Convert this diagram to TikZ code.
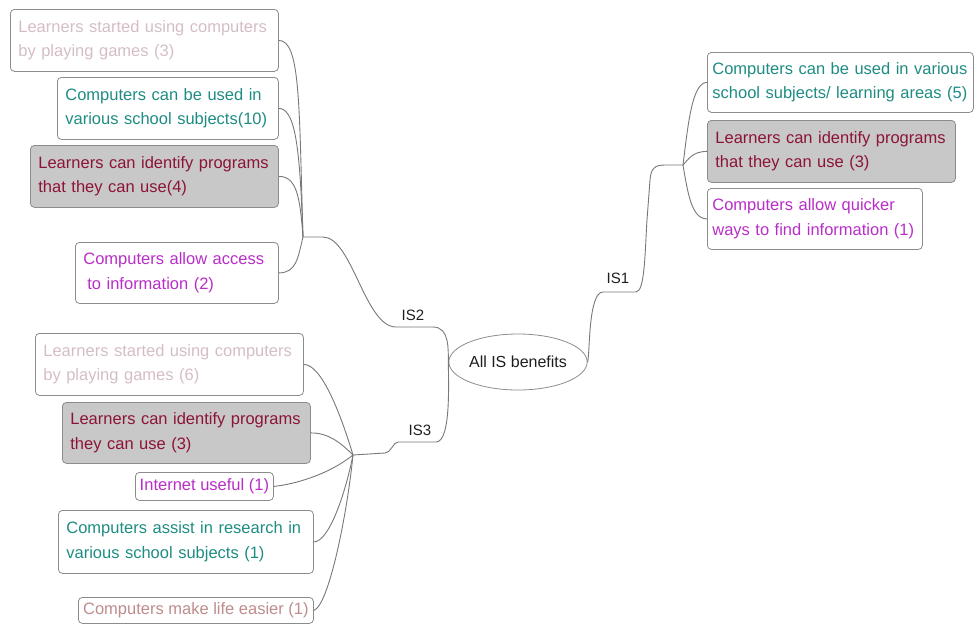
\documentclass[tikz,border=0pt]{standalone}
\usepackage{fontspec}
\setmainfont{Liberation Sans}
\usetikzlibrary{shapes.geometric}
\definecolor{fadedpink}{RGB}{212,190,196}
\definecolor{tealtext}{RGB}{30,140,130}
\definecolor{darkredtext}{RGB}{140,20,55}
\definecolor{boxgray}{RGB}{200,200,200}
\definecolor{magentatext}{RGB}{185,45,200}
\definecolor{rosetext}{RGB}{190,140,140}
\definecolor{bordergray}{RGB}{140,140,140}
\definecolor{linegray}{RGB}{120,120,120}
\definecolor{labelblack}{RGB}{30,30,30}
\newcommand\bxfont{\fontsize{16.5}{24.5}\selectfont}
\newcommand\rootfont{\fontsize{16}{19}\selectfont}
\newcommand\lblfont{\fontsize{15}{18}\selectfont}
\begin{document}
\begin{tikzpicture}[x=1pt,y=-1pt,
  box/.style={draw=bordergray, rounded corners=4pt, line width=0.8pt, anchor=north west,
    inner xsep=8pt, inner ysep=0pt, align=left, font=\bxfont},
  grayfill/.style={fill=boxgray},
  conn/.style={draw=linegray, line width=0.9pt},
  lbl/.style={font=\lblfont, text=labelblack, inner sep=1pt}]
\useasboundingbox (0,0) rectangle (975,625);

% IS2 boxes
\node[box, text=fadedpink, text width=252pt, minimum height=62pt] (a) at (10,9)
  {Learners started using computers\\by playing games (3)};
\node[box, text=tealtext, text width=205pt, minimum height=62pt] (b) at (57,77)
  {Computers can be used in\\various school subjects(10)};
\node[box, grayfill, text=darkredtext, text width=232pt, minimum height=62pt] (c) at (30,145)
  {Learners can identify programs\\that they can use(4)};
\node[box, text=magentatext, text width=187pt, minimum height=61pt] (d) at (75,242)
  {Computers allow access\\\hspace*{4pt}to information (2)};

% IS1 boxes
\node[box, text=tealtext, inner xsep=5pt, text width=256pt, minimum height=60pt] (e) at (707,52)
  {Computers can be used in various\\school subjects/ learning areas (5)};
\node[box, grayfill, text=darkredtext, text width=232pt, minimum height=62pt] (f) at (707,120)
  {Learners can identify programs\\that they can use (3)};
\node[box, text=magentatext, inner xsep=5pt, text width=205pt, minimum height=61pt] (g) at (707,188)
  {Computers allow quicker\\ways to find information (1)};

% IS3 boxes
\node[box, text=fadedpink, text width=252pt, minimum height=62pt] (h) at (35,333)
  {Learners started using computers\\by playing games (6)};
\node[box, grayfill, text=darkredtext, text width=232pt, minimum height=61pt] (i) at (62,402)
  {Learners can identify programs\\they can use (3)};
\node[box, text=magentatext, inner xsep=4pt, minimum width=138pt, minimum height=28pt] (j) at (135,472)
  {Internet useful (1)};
\node[box, text=tealtext, text width=239pt, minimum height=63pt] (k) at (58,510)
  {Computers assist in research in\\various school subjects (1)};
\node[box, text=rosetext, inner xsep=4pt, minimum width=235pt, minimum height=26pt] (l) at (78,597)
  {Computers make life easier (1)};

% root
\node[ellipse, draw=bordergray, line width=0.8pt, minimum width=117pt, minimum height=56pt,
  inner sep=0pt, font=\rootfont, text=labelblack] (root) at (518,362) {All IS benefits};

\coordinate (j2) at (303,237);
\coordinate (j3) at (353,455);
\coordinate (j1) at (683,165);

% trunks
\draw[conn] (root.west) .. controls (448,350) and (450,327) .. (433,327) -- (396,327)
  .. controls (365,327) and (352,237) .. (323,237) -- (j2);
\node[lbl] (l2) at (413,315) {IS2};
\draw[conn] (root.west) .. controls (448,375) and (452,442) .. (436,442) -- (398,442)
  .. controls (393,442) and (391,453) .. (385,453) -- (j3);
\node[lbl] (l3) at (420,430) {IS3};
\draw[conn] (root.east) .. controls (590,355) and (588,292) .. (603,292) -- (636,292)
  .. controls (645,292) and (645,250) .. (647,220) -- (650,180)
  .. controls (651,168) and (655,165) .. (665,165) -- (j1);
\node[lbl] (l1) at (618,278) {IS1};

% IS2 branches
\draw[conn] (a.east) .. controls +(22,0) and +(-4,-130) .. (j2);
\draw[conn] (b.east) .. controls +(18,0) and +(-3,-80) .. (j2);
\draw[conn] (c.east) .. controls +(18,0) and +(-3,-40) .. (j2);
\draw[conn] (d.east) .. controls +(18,0) and +(-5,20) .. (j2);

% IS3 branches
\draw[conn] (h.east) .. controls +(18,0) and +(-12,-40) .. (j3);
\draw[conn] (i.east) .. controls +(18,0) and +(-12,-12) .. (j3);
\draw[conn] (j.east) .. controls +(20,-2) and +(-25,20) .. (j3);
\draw[conn] (k.east) .. controls +(15,0) and +(-8,40) .. (j3);
\draw[conn] (l.east) .. controls +(15,-5) and +(-6,60) .. (j3);

% IS1 branches
\draw[conn] (e.west) .. controls +(-15,0) and +(5,-40) .. (j1);
\draw[conn] (f.west) .. controls +(-15,0) and +(5,-5) .. (j1);
\draw[conn] (g.west) .. controls +(-15,0) and +(5,30) .. (j1);
\end{tikzpicture}
\end{document}
